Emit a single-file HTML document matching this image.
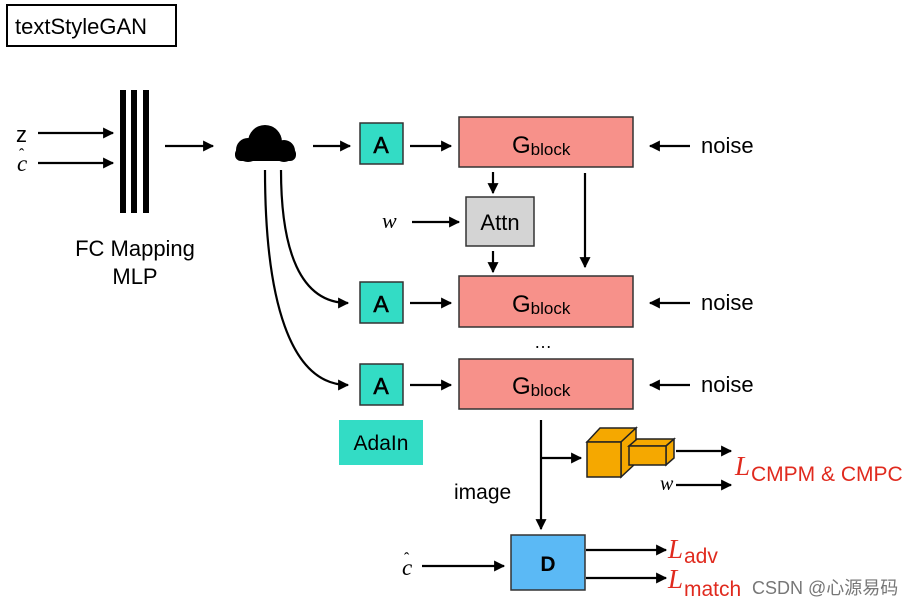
<!DOCTYPE html>
<html><head><meta charset="utf-8"><style>
html,body{margin:0;padding:0;background:#fff;}
svg{display:block;}
text{font-family:"Liberation Sans",Arial,sans-serif;}
.s{font-family:"Liberation Serif",serif;font-style:italic;}
</style></head><body>
<svg width="916" height="606" viewBox="0 0 916 606" xmlns="http://www.w3.org/2000/svg">
<defs>
<marker id="a" viewBox="0 0 10 10" refX="9" refY="5" markerWidth="12" markerHeight="11" markerUnits="userSpaceOnUse" orient="auto"><path d="M0,0 L10,5 L0,10 Z" fill="#000"/></marker>
</defs>
<g fill="none" stroke="#000" stroke-width="2.2" marker-end="url(#a)">
<line x1="38" y1="133" x2="113" y2="133"/>
<line x1="38" y1="163" x2="113" y2="163"/>
<line x1="165" y1="146" x2="213" y2="146"/>
<line x1="313" y1="146" x2="350" y2="146"/>
<line x1="410" y1="146" x2="451" y2="146"/>
<line x1="410" y1="303" x2="451" y2="303"/>
<line x1="410" y1="385" x2="451" y2="385"/>
<line x1="690" y1="146" x2="650" y2="146"/>
<line x1="690" y1="303" x2="650" y2="303"/>
<line x1="690" y1="385" x2="650" y2="385"/>
<line x1="493" y1="172" x2="493" y2="193"/>
<line x1="493" y1="251" x2="493" y2="272"/>
<line x1="585" y1="173" x2="585" y2="267"/>
<line x1="412" y1="222" x2="459" y2="222"/>
<path d="M281,170 C281,250 300,303 348,303"/>
<path d="M265,170 C265,300 290,385 348,385"/>
<line x1="541" y1="420" x2="541" y2="529"/>
<line x1="541" y1="458" x2="581" y2="458"/>
<line x1="676" y1="451" x2="731" y2="451"/>
<line x1="676" y1="485" x2="731" y2="485"/>
<line x1="422" y1="566" x2="504" y2="566"/>
<line x1="586" y1="550" x2="666" y2="550"/>
<line x1="586" y1="578" x2="666" y2="578"/>
</g>
<rect x="7" y="5" width="169" height="41" fill="#fff" stroke="#000" stroke-width="2"/>
<text x="15" y="34" font-size="22">textStyleGAN</text>
<text x="16" y="142" font-size="22">z</text>
<text x="17" y="171" font-size="23" class="s">c</text><text x="19" y="160" font-size="16">ˆ</text>
<rect x="120" y="90" width="6" height="123" fill="#000"/>
<rect x="131" y="90" width="6" height="123" fill="#000"/>
<rect x="143" y="90" width="6" height="123" fill="#000"/>
<text x="135" y="256" font-size="22" text-anchor="middle">FC Mapping</text>
<text x="135" y="284" font-size="22" text-anchor="middle">MLP</text>
<g fill="#000"><circle cx="265" cy="142" r="17"/><circle cx="248" cy="150" r="12"/><circle cx="284" cy="151" r="11"/><rect x="235" y="148" width="61" height="13" rx="6"/></g>
<g stroke="#333" stroke-width="1.5">
<rect x="360" y="123" width="43" height="41" fill="#33dcc5"/>
<rect x="360" y="282" width="43" height="41" fill="#33dcc5"/>
<rect x="360" y="364" width="43" height="41" fill="#33dcc5"/>
<rect x="459" y="117" width="174" height="50" fill="#f7918a"/>
<rect x="459" y="276" width="174" height="51" fill="#f7918a"/>
<rect x="459" y="359" width="174" height="50" fill="#f7918a"/>
<rect x="466" y="197" width="68" height="49" fill="#d4d4d4"/>
<rect x="511" y="535" width="74" height="55" fill="#5bb9f5"/>
</g>
<rect x="339" y="420" width="84" height="45" fill="#33dcc5"/>
<g font-size="23" text-anchor="middle" stroke="#000" stroke-width="0.6"><text x="381" y="153">A</text><text x="381" y="312">A</text><text x="381" y="394">A</text></g>
<text x="381" y="450" font-size="21" text-anchor="middle">AdaIn</text>
<text x="500" y="230" font-size="22" text-anchor="middle">Attn</text>
<text x="548" y="571" font-size="21" text-anchor="middle" font-weight="bold">D</text>
<g font-size="24"><text x="512" y="153">G<tspan font-size="17" dy="2">block</tspan></text>
<text x="512" y="312">G<tspan font-size="17" dy="2">block</tspan></text>
<text x="512" y="394">G<tspan font-size="17" dy="2">block</tspan></text></g>
<g font-size="22"><text x="701" y="153">noise</text><text x="701" y="310">noise</text><text x="701" y="392">noise</text></g>
<text x="543" y="348" font-size="18" text-anchor="middle">…</text>
<text x="382" y="228" font-size="22" class="s">w</text>
<text x="660" y="490" font-size="20" class="s">w</text>
<text x="454" y="499" font-size="21">image</text>
<text x="402" y="575" font-size="23" class="s">c</text><text x="404" y="564" font-size="16">ˆ</text>
<g stroke="#222" stroke-width="1.5" fill="#f5a800">
<polygon points="587,442 600,428 636,428 621,442"/>
<polygon points="621,442 636,428 636,463 621,477"/>
<rect x="587" y="442" width="34" height="35"/>
<polygon points="629,446 637,439 674,439 666,446"/>
<polygon points="666,446 674,439 674,458 666,465"/>
<rect x="629" y="446" width="37" height="19"/>
</g>
<g fill="#e02a1e">
<text x="735" y="475" font-size="27" class="s">L</text><text x="751" y="481" font-size="21">CMPM &amp; CMPC</text>
<text x="668" y="558" font-size="27" class="s">L</text><text x="684" y="563" font-size="21">adv</text>
<text x="668" y="588" font-size="27" class="s">L</text><text x="684" y="596" font-size="21">match</text>
</g>
<text x="752" y="594" font-size="18" fill="#777" font-family="Liberation Sans, Noto Sans CJK SC, sans-serif">CSDN @心源易码</text>
</svg>
</body></html>
